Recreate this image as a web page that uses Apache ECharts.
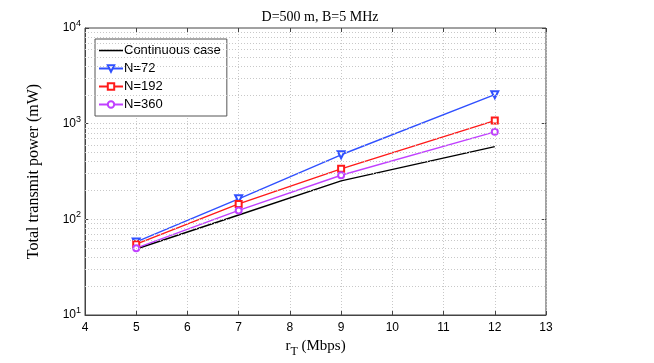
<!DOCTYPE html>
<html>
<head>
<meta charset="utf-8">
<script src="https://cdn.jsdelivr.net/npm/echarts@6/dist/echarts.min.js"></script>
<style>html,body{margin:0;padding:0;background:#fff}#c{width:654px;height:363px}</style>
</head>
<body>
<div id="c"></div>
<script>
var rates = [5, 7, 9, 12];
var continuousCase = [49, 111, 252, 575];
var n72 = [58, 164, 473, 2010];
var n192 = [55, 145, 337, 1076];
var n360 = [50, 124, 289, 822];
var minorGrid = [20,30,40,50,60,70,80,90,200,300,400,500,600,700,800,900,2000,3000,4000,5000,6000,7000,8000,9000,100,1000];

function pts(ys){ return rates.map(function(x,i){ return [x, ys[i]]; }); }

var chart = echarts.init(document.getElementById('c'));
var sans = 'Liberation Sans';
var serif = 'Liberation Serif';
chart.setOption({
  animation: false,
  backgroundColor: '#fff',
  title: {
    text: 'D=500 m, B=5 MHz',
    left: 315, top: 5, textAlign: 'center',
    textStyle: {fontFamily: serif, fontSize: 14, fontWeight: 'normal', color: '#000'}
  },
  grid: {left: 85, right: 108, top: 28, bottom: 41, show: true, borderColor: '#444', borderWidth: 1},
  legend: {
    left: 95, top: 39, orient: 'vertical',
    backgroundColor: '#fff', borderColor: '#555', borderWidth: 1,
    padding: [4, 6, 4, 3], itemGap: 3, itemWidth: 24, itemHeight: 8,
    textStyle: {fontFamily: sans, fontSize: 13, color: '#000', lineHeight: 15, padding: [0,0,0,-4]},
    data: [{name: 'Continuous case', icon: 'path://M0,0 L24,0 L24,1.6 L0,1.6 Z'}, 'N=72', 'N=192', 'N=360']
  },
  xAxis: [{
    type: 'value', min: 4, max: 13, interval: 1,
    name: 'r{sub|T} (Mbps)', nameLocation: 'middle', nameGap: 20,
    nameTextStyle: {fontFamily: serif, fontSize: 15, color: '#000',
      rich: {sub: {fontFamily: serif, fontSize: 12, padding: [11,0,0,0]}}},
    axisLine: {show: true, lineStyle: {color: '#444'}},
    axisTick: {inside: true, length: 4, lineStyle: {color: '#444'}},
    axisLabel: {fontFamily: sans, fontSize: 12, color: '#000', margin: 7},
    splitLine: {show: true, lineStyle: {color: '#c8c8c8', type: [1, 2]}}
  }, {
    type: 'value', min: 4, max: 13, interval: 1, position: 'top',
    axisLine: {show: false}, axisTick: {inside: true, length: 4, lineStyle: {color: '#444'}},
    axisLabel: {show: false}, splitLine: {show: false}
  }],
  yAxis: [{
    type: 'log', logBase: 10, min: 10, max: 10000,
    name: 'Total transmit power (mW)', nameLocation: 'middle', nameGap: 43,
    nameTextStyle: {fontFamily: serif, fontSize: 16, color: '#000'},
    axisLine: {show: true, lineStyle: {color: '#444'}},
    axisTick: {inside: true, length: 4, lineStyle: {color: '#444'}},
    axisLabel: {
      fontFamily: sans, fontSize: 12, color: '#000', margin: 4,
      formatter: function(v){ return '10{s|' + Math.round(Math.log10(v)) + '}'; },
      rich: {s: {fontFamily: sans, fontSize: 9, padding: [0,0,9,0]}}
    },
    splitLine: {show: false}
  }, {
    type: 'log', logBase: 10, min: 10, max: 10000, position: 'right',
    axisLine: {show: false}, axisTick: {inside: true, length: 4, lineStyle: {color: '#444'}},
    axisLabel: {show: false}, splitLine: {show: false}
  }],
  series: [{
    name: 'Continuous case', type: 'line', data: pts(continuousCase),
    symbol: 'none', lineStyle: {color: '#000', width: 1.4}, itemStyle: {color: '#000'},
    markLine: {
      silent: true, symbol: 'none', label: {show: false}, animation: false,
      lineStyle: {color: '#c8c8c8', type: [1, 2], width: 1},
      data: minorGrid.map(function(v){ return {yAxis: v}; })
    }
  }, {
    name: 'N=72', type: 'line', data: pts(n72),
    symbol: 'emptyTriangle', symbolRotate: 180, symbolSize: 7,
    lineStyle: {color: '#3050ff', width: 1.4}, itemStyle: {color: '#3050ff', borderWidth: 1.3}
  }, {
    name: 'N=192', type: 'line', data: pts(n192),
    symbol: 'emptyRect', symbolSize: 6,
    lineStyle: {color: '#ff1a1a', width: 1.4}, itemStyle: {color: '#ff1a1a', borderWidth: 1.3}
  }, {
    name: 'N=360', type: 'line', data: pts(n360),
    symbol: 'emptyCircle', symbolSize: 6,
    lineStyle: {color: '#c040ff', width: 1.4}, itemStyle: {color: '#c040ff', borderWidth: 1.3}
  }]
});
</script>
</body>
</html>
